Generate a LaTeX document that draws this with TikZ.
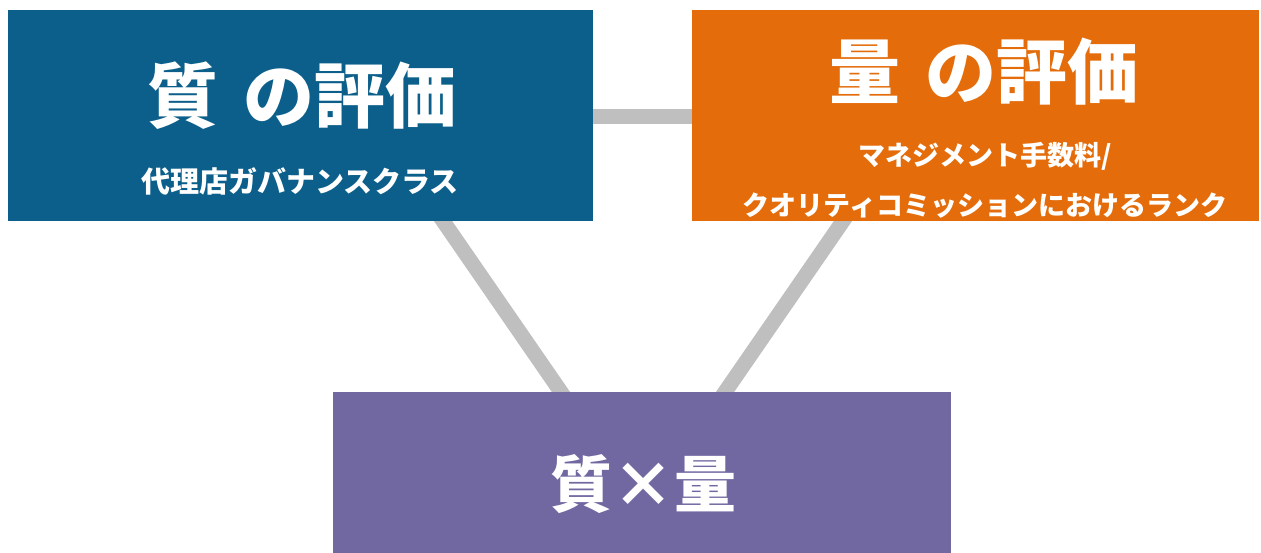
\documentclass[tikz,border=0pt]{standalone}
\usepackage{fontspec}
\newfontfamily\jp{Noto Sans CJK JP}
\usetikzlibrary{backgrounds,calc}
\definecolor{qblue}{RGB}{11,95,138}
\definecolor{qorange}{RGB}{228,108,10}
\definecolor{qpurple}{RGB}{114,104,161}
\definecolor{linkgray}{RGB}{191,191,191}
\begin{document}
\begin{tikzpicture}[x=1pt,y=-1pt,
  box/.style={rectangle, inner sep=0pt, outer sep=0pt, draw=none},
  title/.style={inner sep=0pt, text=white, font=\jp\bfseries\fontsize{71}{80}\selectfont},
  sub/.style={inner sep=0pt, text=white, font=\jp\bfseries\fontsize{27}{50}\selectfont, align=center},
  link/.style={draw=linkgray, line width=15pt}]
\useasboundingbox (0,0) rectangle (1261,553);
\node[box, fill=qblue, minimum width=585pt, minimum height=211pt, anchor=north west] (q) at (8,10) {};
\node[box, fill=qorange, minimum width=567pt, minimum height=211pt, anchor=north west] (r) at (692,10) {};
\node[box, fill=qpurple, minimum width=618pt, minimum height=165pt, anchor=north west] (p) at (333,392) {};
\node[title] (qt) at (302,96) {質\hspace{0.36em}の評価};
\node[sub, font=\jp\bfseries\fontsize{29}{46}\selectfont] (qs) at (300,181) {代理店ガバナンスクラス};
\node[title] (rt) at (984,72) {量\hspace{0.36em}の評価};
\node[sub] (rs) at (985,180.5) {マネジメント手数料/\\クオリティコミッションにおけるランク};
\node[title, font=\jp\bfseries\fontsize{62}{72}\selectfont] (pt) at (643,484) {質×量};
\coordinate (h1) at ($(q.east)+(-8,1.5)$);
\coordinate (h2) at ($(r.west)+(8,1.5)$);
\coordinate (d1a) at ($(q.south west)+(429.5,-8)$);
\coordinate (d1b) at ($(p.north west)+(233.5,8)$);
\coordinate (d2a) at ($(r.south west)+(156.5,-8)$);
\coordinate (d2b) at ($(p.north west)+(386.5,8)$);
\begin{pgfonlayer}{background}
\draw[link] (h1) -- (h2);
\draw[link] (d1a) -- (d1b);
\draw[link] (d2a) -- (d2b);
\end{pgfonlayer}
\end{tikzpicture}
\end{document}
